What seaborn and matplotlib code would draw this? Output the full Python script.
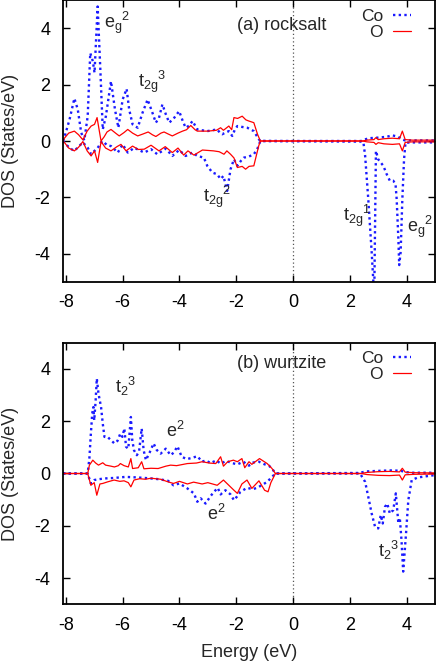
import numpy as np
import pandas as pd
import matplotlib
matplotlib.use("Agg")
import matplotlib.pyplot as plt
import seaborn as sns

# ---------------- data ----------------
# Panel (a) rocksalt
a_co_up_E = [-8.10, -8.05, -7.87, -7.70, -7.58, -7.46, -7.35, -7.23, -7.14, -7.05, -6.99, -6.88, -6.79, -6.70,
             -6.59, -6.41, -6.27, -6.15, -6.00, -5.86, -5.77, -5.65, -5.47, -5.30, -5.12, -4.95, -4.83, -4.72,
             -4.60, -4.48, -4.36, -4.20, -4.01, -3.88, -3.78, -3.65, -3.54, -3.37, -3.20, -3.02, -2.85, -2.67,
             -2.58, -2.49, -2.38, -2.26, -2.14, -2.05, -1.96, -1.80, -1.61, -1.38, -1.21, -1.15,
             2.40, 2.50, 2.70, 3.00, 3.30, 3.50, 3.70, 3.85, 3.95, 5.00]
a_co_up_V = [0.00, 0.13, 0.76, 1.51, 1.12, 0.30, 0.02, 0.88, 3.12, 2.83, 2.42, 4.77, 2.65, 0.41,
             0.88, 2.12, 1.12, 0.47, 1.47, 1.85, 1.12, 0.59, 0.47, 1.00, 1.47, 1.00, 0.65, 0.82,
             1.30, 0.95, 0.65, 0.80, 1.06, 0.70, 0.47, 0.55, 0.71, 0.41, 0.38, 0.35, 0.38, 0.41,
             0.30, 0.24, 0.30, 0.35, 0.18, 0.40, 0.53, 0.50, 0.47, 0.35, 0.07, 0.00,
             0.00, 0.05, 0.10, 0.12, 0.15, 0.20, 0.15, 0.05, 0.02, 0.02]

a_co_dn_E = [-8.10, -8.05, -7.87, -7.70, -7.55, -7.40, -7.23, -7.11, -6.99, -6.88, -6.76, -6.70, -6.55, -6.41,
             -6.17, -6.00, -5.82, -5.59, -5.24, -5.00, -4.78, -4.48, -4.25, -4.01, -3.78, -3.54, -3.37, -3.14,
             -3.02, -2.84, -2.67, -2.55, -2.45, -2.32, -2.20, -2.08, -1.96, -1.84, -1.73, -1.55, -1.38, -1.26,
             -1.15,
             2.40, 2.48, 2.54, 2.65, 2.77, 2.83, 2.86, 2.92, 3.00, 3.18, 3.30, 3.41, 3.53, 3.61, 3.65, 3.71,
             3.74, 3.79, 3.85, 3.91, 3.96, 4.20, 5.00]
a_co_dn_V = [0.00, -0.05, -0.25, -0.35, -0.20, -0.05, -0.24, -0.47, -0.35, -0.25, -0.05, 0.00, -0.15, -0.18,
             -0.41, -0.12, -0.41, -0.24, -0.41, -0.29, -0.47, -0.27, -0.53, -0.32, -0.53, -0.41, -0.53, -0.59,
             -0.88, -1.12, -1.18, -1.35, -1.24, -1.77, -1.00, -0.65, -0.88, -0.71, -0.59, -0.55, -0.47, -0.29,
             0.00,
             -0.02, -0.05, -0.53, -2.06, -3.94, -5.00, -5.50, -0.35, -0.65, -0.88, -1.18, -1.41, -1.41, -1.53,
             -2.06, -3.47, -4.40, -3.94, -2.06, -0.65, -0.06, -0.05, -0.05]

a_o_up_E = [-8.10, -8.05, -7.90, -7.70, -7.55, -7.40, -7.25, -7.11, -6.99, -6.90, -6.82, -6.76, -6.65, -6.55,
            -6.41, -6.25, -6.12, -5.95, -5.82, -5.65, -5.47, -5.28, -5.10, -4.95, -4.83, -4.65, -4.54, -4.40,
            -4.25, -4.05, -3.89, -3.75, -3.60, -3.45, -3.37, -3.00, -2.70, -2.55, -2.45, -2.26, -2.16, -2.08,
            -1.95, -1.79, -1.66, -1.56, -1.38, -1.25, -1.15,
            2.45, 2.60, 2.85, 2.92, 3.00, 3.20, 3.50, 3.75, 3.85, 3.95, 4.20, 5.00]
a_o_up_V = [0.00, 0.10, 0.28, 0.35, 0.22, 0.04, 0.35, 0.53, 0.59, 0.83, 0.35, 0.00, 0.15, 0.32,
            0.41, 0.28, 0.18, 0.30, 0.41, 0.28, 0.18, 0.25, 0.32, 0.22, 0.16, 0.28, 0.32, 0.25,
            0.18, 0.28, 0.35, 0.40, 0.55, 0.40, 0.35, 0.35, 0.38, 0.47, 0.38, 0.53, 0.40, 0.83,
            0.80, 0.88, 0.75, 0.71, 0.65, 0.24, 0.00,
            0.00, 0.03, 0.05, 0.12, 0.05, 0.08, 0.10, 0.08, 0.35, 0.05, 0.03, 0.03]

a_o_dn_E = [-8.10, -8.05, -7.90, -7.70, -7.55, -7.40, -7.25, -7.11, -6.99, -6.88, -6.76, -6.60, -6.41, -6.20,
            -6.06, -5.88, -5.65, -5.45, -5.24, -5.00, -4.72, -4.50, -4.25, -4.05, -3.85, -3.70, -3.49, -3.19,
            -2.80, -2.60, -2.43, -2.33, -2.20, -2.08, -1.96, -1.79, -1.67, -1.55, -1.38, -1.21, -1.15,
            2.45, 2.60, 2.85, 2.92, 3.00, 3.20, 3.50, 3.75, 3.85, 3.95, 4.20, 5.00]
a_o_dn_V = [0.00, -0.05, -0.25, -0.35, -0.22, -0.02, -0.35, -0.53, -0.35, -0.76, -0.02, -0.25, -0.35, -0.20,
            -0.12, -0.35, -0.18, -0.30, -0.29, -0.15, -0.35, -0.20, -0.41, -0.25, -0.50, -0.35, -0.50, -0.32,
            -0.35, -0.38, -0.47, -0.35, -0.47, -0.60, -0.94, -0.90, -1.00, -0.90, -0.88, -0.18, 0.00,
            0.00, -0.03, -0.05, -0.12, -0.06, -0.10, -0.12, -0.10, -0.35, -0.05, -0.03, -0.03]

# Panel (b) wurtzite
b_co_up_E = [-8.10, -7.23, -7.17, -7.12, -7.07, -7.03, -7.00, -6.95, -6.91, -6.85, -6.76, -6.70, -6.64, -6.53,
             -6.41, -6.29, -6.18, -6.08, -6.01, -5.94, -5.88, -5.80, -5.71, -5.66, -5.60, -5.50, -5.42, -5.33,
             -5.26, -5.18, -5.05, -4.91, -4.80, -4.66, -4.48, -4.31, -4.20, -4.07, -3.92, -3.74, -3.55, -3.37,
             -3.20, -3.08, -2.90, -2.70, -2.55, -2.35, -2.15, -1.96, -1.75, -1.55, -1.40, -1.20, -1.00, -0.85,
             -0.74, -0.62,
             2.30, 2.60, 3.00, 3.50, 3.80, 4.00, 4.20, 5.00]
b_co_up_V = [0.00, 0.00, 0.60, 1.50, 2.30, 2.54, 2.03, 2.80, 3.63, 3.05, 2.54, 1.91, 1.40, 1.40,
             1.27, 1.15, 1.25, 1.53, 1.40, 1.72, 1.02, 0.95, 2.16, 1.27, 0.89, 0.70, 0.85, 1.72,
             0.89, 0.51, 0.80, 1.15, 0.90, 0.76, 0.95, 0.70, 0.80, 1.04, 0.64, 0.55, 0.60, 0.66,
             0.45, 0.50, 0.40, 0.50, 0.38, 0.48, 0.40, 0.35, 0.45, 0.30, 0.42, 0.45, 0.35, 0.30,
             0.19, 0.00,
             0.02, 0.08, 0.10, 0.12, 0.10, 0.05, 0.03, 0.03]

b_co_dn_E = [-8.10, -7.23, -7.12, -7.00, -6.85, -6.64, -6.30, -5.90, -5.50, -5.10, -4.70, -4.40, -4.21, -4.00,
             -3.72, -3.49, -3.37, -3.25, -3.08, -2.92, -2.80, -2.65, -2.55, -2.38, -2.20, -2.08, -1.98, -1.85,
             -1.62, -1.40, -1.20, -0.91, -0.74, -0.62,
             2.36, 2.54, 2.65, 2.77, 2.89, 3.00, 3.09, 3.16, 3.24, 3.32, 3.41, 3.53, 3.62, 3.71, 3.76, 3.82,
             3.88, 3.98, 4.06, 4.18, 4.40, 5.00]
b_co_dn_V = [0.00, 0.00, -0.38, -0.25, -0.22, -0.19, -0.17, -0.13, -0.15, -0.18, -0.22, -0.28, -0.45, -0.38,
             -0.57, -0.76, -1.08, -0.95, -1.15, -0.89, -0.72, -0.55, -0.80, -0.64, -0.80, -1.02, -0.89, -0.70,
             -0.55, -0.60, -0.51, -0.32, -0.13, 0.00,
             0.00, -0.32, -0.89, -1.53, -2.04, -2.10, -1.59, -1.91, -1.27, -1.15, -1.53, -1.40, -0.76, -1.91,
             -1.70, -2.54, -3.75, -2.29, -1.02, -0.25, -0.15, -0.06]

b_o_up_E = [-8.10, -7.23, -7.17, -7.05, -6.95, -6.85, -6.70, -6.60, -6.41, -6.29, -6.15, -6.08, -5.95, -5.80,
            -5.71, -5.65, -5.45, -5.33, -5.25, -5.00, -4.75, -4.48, -4.31, -4.10, -3.72, -3.40, -3.20, -2.95,
            -2.72, -2.55, -2.45, -2.30, -2.10, -1.96, -1.80, -1.70, -1.55, -1.45, -1.18, -0.91, -0.74, -0.62,
            2.40, 2.60, 3.00, 3.40, 3.75, 3.85, 3.95, 4.30, 5.00]
b_o_up_V = [0.00, 0.00, 0.32, 0.51, 0.40, 0.32, 0.41, 0.32, 0.28, 0.25, 0.30, 0.38, 0.30, 0.25,
            0.57, 0.19, 0.22, 0.45, 0.18, 0.20, 0.19, 0.28, 0.32, 0.30, 0.38, 0.40, 0.45, 0.40,
            0.38, 0.64, 0.28, 0.45, 0.51, 0.45, 0.57, 0.22, 0.45, 0.35, 0.57, 0.38, 0.19, 0.00,
            0.00, 0.04, 0.07, 0.08, 0.06, 0.20, 0.05, 0.03, 0.02]

b_o_dn_E = [-8.10, -7.23, -7.12, -7.00, -6.91, -6.80, -6.70, -6.53, -6.30, -6.10, -5.95, -5.80, -5.71, -5.60,
            -5.40, -5.20, -5.00, -4.66, -4.40, -4.21, -4.00, -3.72, -3.50, -3.20, -3.00, -2.67, -2.45, -2.08,
            -1.96, -1.80, -1.62, -1.45, -1.20, -1.00, -0.88, -0.78, -0.62,
            2.40, 2.60, 3.00, 3.40, 3.75, 3.85, 3.95, 4.30, 5.00]
b_o_dn_V = [0.00, 0.00, -0.45, -0.35, -0.83, -0.40, -0.38, -0.32, -0.25, -0.30, -0.28, -0.35, -0.51, -0.25,
            -0.20, -0.22, -0.18, -0.22, -0.32, -0.38, -0.30, -0.40, -0.33, -0.40, -0.35, -0.45, -0.25, -0.64,
            -0.76, -0.40, -0.25, -0.57, -0.28, -0.64, -0.70, -0.35, 0.00,
            0.00, -0.04, -0.07, -0.08, -0.06, -0.25, -0.05, -0.03, -0.02]

x_ticks = [-8, -6, -4, -2, 0, 2, 4]
y_ticks = [-4, -2, 0, 2, 4]
panel_titles = ["(a) rocksalt", "(b) wurtzite"]
series_names = ["Co", "O"]

# ---------------- style ----------------
sns.set_style("ticks")
plt.rcParams["font.family"] = ["Liberation Sans", "DejaVu Sans"]
plt.rcParams["mathtext.default"] = "regular"
plt.rcParams["axes.unicode_minus"] = False
FS = 13

CO_COLOR = "#1a1aff"
O_COLOR = "#ff0000"

fig = plt.figure(figsize=(4.36, 6.64), dpi=100)
ax_a = fig.add_axes([63 / 436, (664 - 282) / 664, 372 / 436, 282 / 664])
ax_b = fig.add_axes([63 / 436, (664 - 604.3) / 664, 372 / 436, 261.6 / 664])


def draw_panel(ax, co_up, co_dn, o_up, o_dn, title, title_y):
    for k, (E, V) in enumerate([co_up, co_dn]):
        sns.lineplot(x=E, y=V, ax=ax, color=CO_COLOR, linestyle=(0, (1, 1.4)), linewidth=1.7,
                     sort=False, estimator=None, label="Co" if k == 0 else None, legend=False)
    for k, (E, V) in enumerate([o_up, o_dn]):
        sns.lineplot(x=E, y=V, ax=ax, color=O_COLOR, linewidth=0.9,
                     sort=False, estimator=None, label="O" if k == 0 else None, legend=False)
    ax.axvline(0, color="#555555", linestyle=(0, (1, 2)), linewidth=0.9, zorder=0)
    ax.set_xlim(-8.1, 5)
    ax.set_ylim(-5, 5)
    ax.set_xticks(x_ticks)
    ax.set_yticks(y_ticks)
    ax.tick_params(direction="in", top=True, right=True, length=5, width=1.0,
                   labelsize=FS, pad=9, colors="black")
    for s in ax.spines.values():
        s.set_linewidth(1.3)
        s.set_color("black")
    ax.set_ylabel("DOS (States/eV)", fontsize=FS)
    ax.yaxis.set_label_coords(-0.118, 0.5)
    ax.text(0.467, title_y, title, transform=ax.transAxes, fontsize=FS,
            ha="left", va="center")
    lines = ax.get_lines()
    handles = [lines[0], lines[2]]
    ax.legend(handles, series_names, loc="upper right", bbox_to_anchor=(0.935, 0.967),
              frameon=False, markerfirst=False, fontsize=12.5, handlelength=1.0,
              handletextpad=0.6, labelspacing=0.0, borderaxespad=0, borderpad=0)


draw_panel(ax_a, (a_co_up_E, a_co_up_V), (a_co_dn_E, a_co_dn_V),
           (a_o_up_E, a_o_up_V), (a_o_dn_E, a_o_dn_V), panel_titles[0], 0.911)
draw_panel(ax_b, (b_co_up_E, b_co_up_V), (b_co_dn_E, b_co_dn_V),
           (b_o_up_E, b_o_up_V), (b_o_dn_E, b_o_dn_V), panel_titles[1], 0.921)

ax_b.set_xlabel("Energy (eV)", fontsize=FS)
ax_b.xaxis.set_label_coords(0.5, -0.15)

# orbital annotations
ax_a.text(-6.66, 4.02, r"$e_g{}^2$", fontsize=FS, ha="left", va="baseline")
ax_a.text(-5.46, 1.93, r"$t_{2g}{}^3$", fontsize=FS, ha="left", va="baseline")
ax_a.text(-3.17, -2.17, r"$t_{2g}{}^2$", fontsize=FS, ha="left", va="baseline")
ax_a.text(1.76, -2.83, r"$t_{2g}{}^1$", fontsize=FS, ha="left", va="baseline")
ax_a.text(4.00, -3.23, r"$e_g{}^2$", fontsize=FS, ha="left", va="baseline")

ax_b.text(-6.27, 3.06, r"$t_2{}^3$", fontsize=FS, ha="left", va="baseline")
ax_b.text(-4.48, 1.40, r"$e^2$", fontsize=FS, ha="left", va="baseline")
ax_b.text(-3.02, -1.78, r"$e^2$", fontsize=FS, ha="left", va="baseline")
ax_b.text(2.99, -3.18, r"$t_2{}^3$", fontsize=FS, ha="left", va="baseline")

fig.savefig("out.png", dpi=100)
